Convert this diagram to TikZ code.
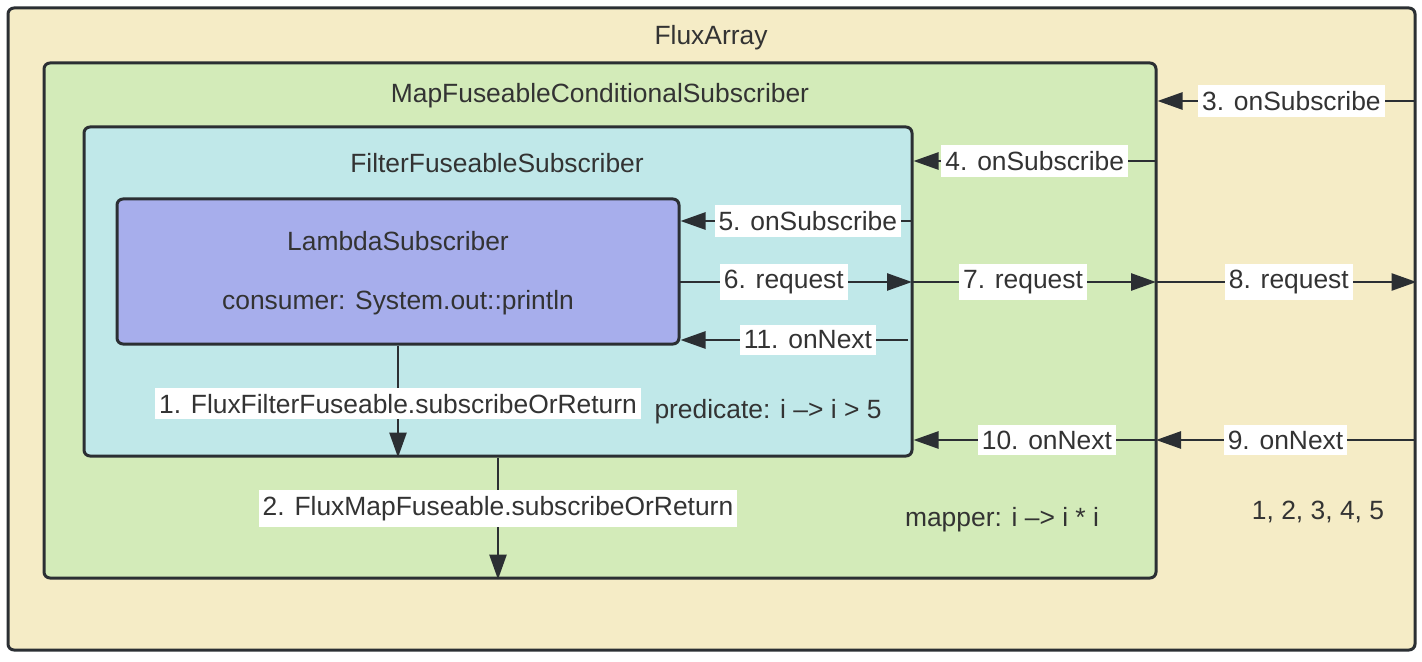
\documentclass[tikz,border=0pt]{standalone}
\usepackage{fontspec}
\setmainfont{Liberation Sans}
\usetikzlibrary{arrows.meta}
\definecolor{fluxbg}{HTML}{F5ECC6}
\definecolor{mapbg}{HTML}{D3EBB9}
\definecolor{filterbg}{HTML}{C0E8E9}
\definecolor{lambdabg}{HTML}{A7AEEC}
\definecolor{edge}{HTML}{2B2F33}
\definecolor{txt}{HTML}{333333}
\tikzset{
  box/.style={draw=edge, line width=1.5pt, rounded corners=3pt, rectangle, inner sep=0pt},
  ttl/.style={text=txt, font=\fontsize{13.2}{15}\selectfont, inner sep=0pt},
  lbl/.style={fill=white, text=txt, font=\fontsize{13.2}{15}\selectfont, inner xsep=2pt, inner ysep=3pt},
  conn/.style={draw=edge, line width=1.3pt, -{Triangle[length=12.5pt,width=8.5pt]}},
}
\begin{document}
\begin{tikzpicture}[x=0.5pt,y=-0.5pt]
\useasboundingbox (0,0) rectangle (1422,662);
% boxes
\node[box, fill=fluxbg, minimum width=703.5pt, minimum height=321pt] (flux) at (711.5,329) {};
\node[box, fill=mapbg, minimum width=556pt, minimum height=257.5pt] (map) at (600,320.5) {};
\node[box, fill=filterbg, minimum width=414pt, minimum height=164.5pt] (filter) at (498,291.5) {};
\node[box, fill=lambdabg, minimum width=281pt, minimum height=72.5pt] (lambda) at (398,271.5) {};
% titles
\node[ttl] (tflux) at (711,38) {FluxArray};
\node[ttl] (tmap) at (600,96) {MapFuseableConditionalSubscriber};
\node[ttl] (tfilter) at (497,163) {FilterFuseableSubscriber};
\node[ttl] (tlambda) at (398,241) {LambdaSubscriber};
\node[ttl] (tcons) at (398,303) {consumer: System.out::println};
\node[ttl] (tpred) at (768,412) {predicate: i --> i > 5};
\node[ttl] (tmapper) at (1002,520) {mapper: i --> i * i};
\node[ttl] (tnums) at (1318,512) {1, 2, 3, 4, 5};
% connector end points
\coordinate (r3) at (1415,101);
\coordinate (m4) at (1156,161);
\coordinate (f5) at (912,221);
\coordinate (l6) at (679,282);
\coordinate (f7) at (912,282);
\coordinate (m8) at (1156,282);
\coordinate (f11) at (908,340);
\coordinate (m10) at (1156,440);
\coordinate (r9) at (1415,440);
% connectors
\draw[conn] (r3) -- node[lbl, pos=0.48] {3. onSubscribe} (map.east |- r3);
\draw[conn] (m4) -- node[lbl, pos=0.5] {4. onSubscribe} (filter.east |- m4);
\draw[conn] (f5) -- node[lbl, pos=0.45] {5. onSubscribe} (lambda.east |- f5);
\draw[conn] (l6) -- node[lbl, pos=0.45] {6. request} (f7);
\draw[conn] (f7) -- node[lbl, pos=0.455] {7. request} (m8);
\draw[conn] (m8) -- node[lbl, pos=0.51] {8. request} (flux.east |- m8);
\draw[conn] (f11) -- node[lbl, pos=0.44] {11. onNext} (lambda.east |- f11);
\draw[conn] (m10) -- node[lbl, pos=0.45] {10. onNext} (filter.east |- m10);
\draw[conn] (r9) -- node[lbl, pos=0.5] {9. onNext} (m10);
\draw[conn] (lambda.south) -- node[lbl, pos=0.52] {1. FluxFilterFuseable.subscribeOrReturn} (filter.south -| lambda.south);
\draw[conn] (filter.south) -- node[lbl, pos=0.42] {2. FluxMapFuseable.subscribeOrReturn} (map.south -| filter.south);
\end{tikzpicture}
\end{document}
